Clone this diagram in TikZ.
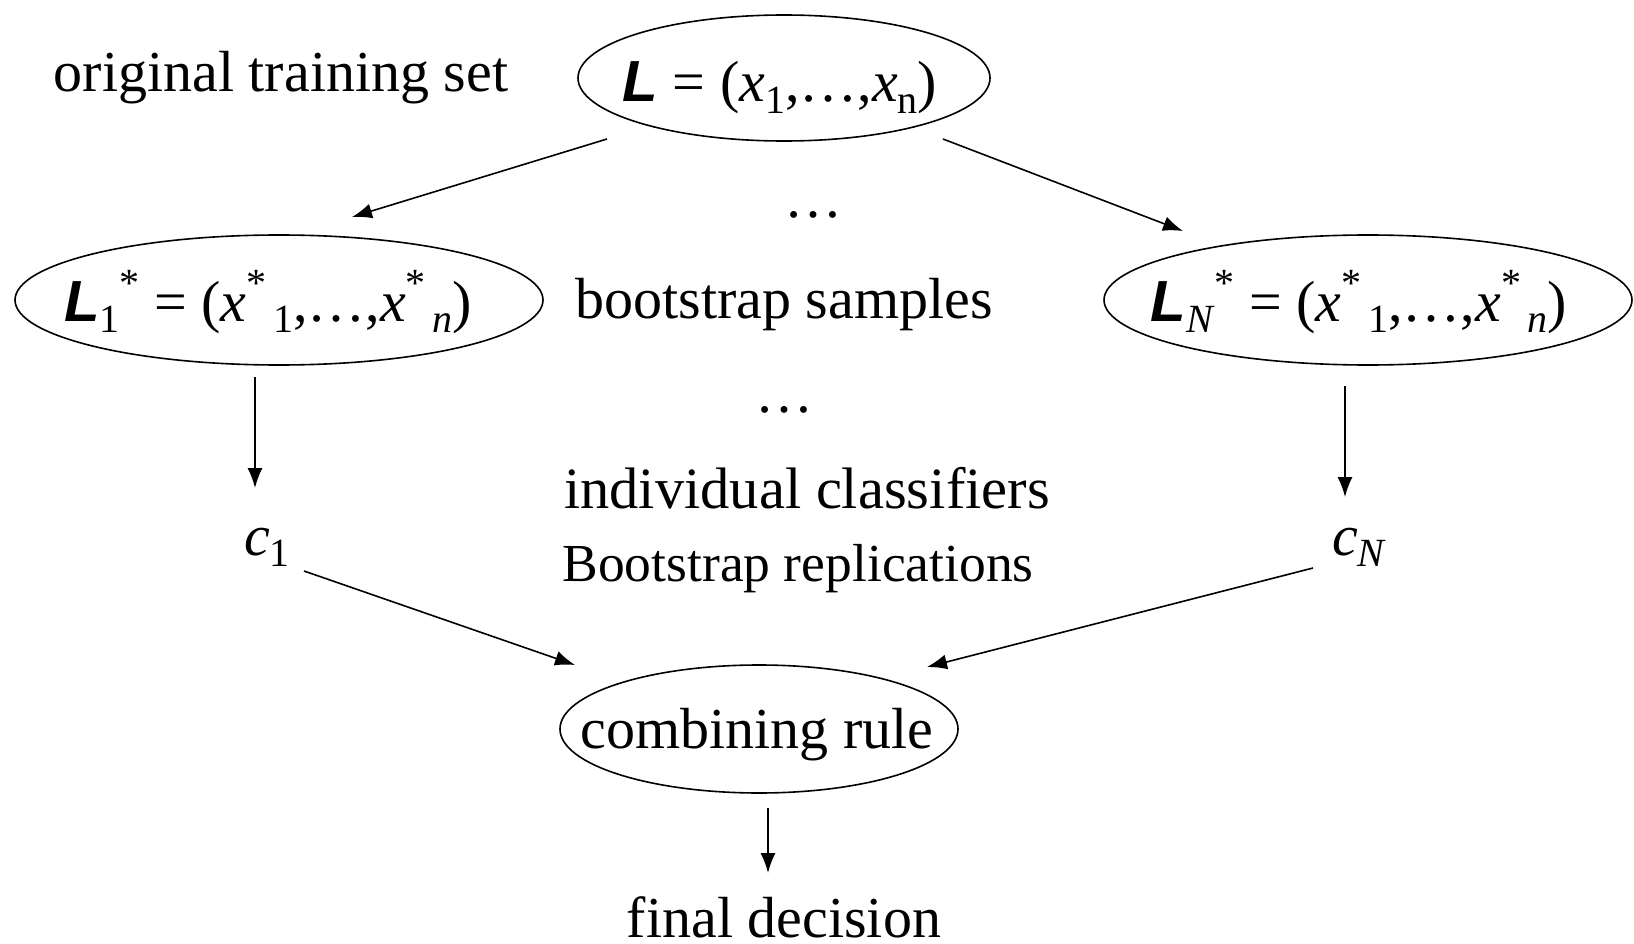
\documentclass[tikz,border=0pt]{standalone}
\usepackage{fontspec}
\setmainfont{Liberation Serif}
\newfontfamily\arialf{Liberation Sans}
\usetikzlibrary{shapes.geometric,arrows.meta}
\newcommand\lo[1]{\raisebox{-0.2em}{\fontsize{40}{40}\selectfont #1}}
\newcommand\hi[1]{\raisebox{0.42em}{\fontsize{40}{40}\selectfont #1}}
\newcommand\LL{{\arialf\itshape\bfseries L}}
\begin{document}
\begin{tikzpicture}[x=1pt,y=-1pt,
  every node/.style={inner sep=0pt,outer sep=0pt,font=\fontsize{58}{64}\selectfont},
  oval/.style={draw,ellipse,line width=1.6pt},
  lbl/.style={anchor=base},
  arr/.style={line width=1.6pt,-{Latex[length=20pt,width=15pt]}}]
\useasboundingbox (0,0) rectangle (1634,944);
% ellipses
\node[oval,minimum width=412pt,minimum height=126pt] (top) at (784,78) {};
\node[lbl] (toptxt) at (780,102) {\LL\ = (\textit{x}\lo{1},\dots,\textit{x}\lo{n})};
\node[oval,minimum width=528pt,minimum height=130pt] (L1) at (279,300) {};
\node[lbl] (L1txt) at (268,321) {\LL\lo{1}\hi{*} = (\textit{x}\hi{*}\lo{\,1},\dots,\textit{x}\hi{*}\lo{\,\textit{n}})};
\node[oval,minimum width=528pt,minimum height=130pt] (LN) at (1368,300) {};
\node[lbl] (LNtxt) at (1359,321) {\LL\lo{\textit{N}}\hi{*} = (\textit{x}\hi{*}\lo{\,1},\dots,\textit{x}\hi{*}\lo{\,\textit{n}})};
\node[oval,minimum width=398pt,minimum height=128pt] (comb) at (759,729) {};
\node[lbl] (combtxt) at (757,748) {combining rule};
% texts
\node[lbl] (orig) at (281,92) {original training set};
\node[lbl] (dots1) at (813,218) {\dots};
\node[lbl] (boot) at (784,318) {bootstrap samples};
\node[lbl] (dots2) at (784,412) {\dots};
\node[lbl,font=\fontsize{58.5}{64}\selectfont] (indiv) at (807,508) {individual classifiers};
\node[lbl,font=\fontsize{53.5}{58}\selectfont] (repl) at (798,581) {Bootstrap replications};
\node[lbl,anchor=base west] (c1) at (244,555) {\textit{c}\lo{1}};
\node[lbl,anchor=base west] (cN) at (1332,555) {\textit{c}\lo{\textit{N}}};
\node[lbl] (final) at (784,937) {final decision};
% connector end points
\coordinate (a1s) at (607,139);
\coordinate (a1e) at (352,217);
\coordinate (a2s) at (943,139);
\coordinate (a2e) at (1183,231);
\coordinate (a3s) at (255,377);
\coordinate (a3e) at (255,488);
\coordinate (a4s) at (1345,386);
\coordinate (a4e) at (1345,497);
\coordinate (a5s) at (304,571);
\coordinate (a5e) at (575,665);
\coordinate (a6s) at (1313,568);
\coordinate (a6e) at (927,667);
\coordinate (a7s) at (768,808);
\coordinate (a7e) at (768,873);
\draw[arr] (a1s) -- (a1e);
\draw[arr] (a2s) -- (a2e);
\draw[arr] (a3s) -- (a3e);
\draw[arr] (a4s) -- (a4e);
\draw[arr] (a5s) -- (a5e);
\draw[arr] (a6s) -- (a6e);
\draw[arr] (a7s) -- (a7e);
\end{tikzpicture}
\end{document}
